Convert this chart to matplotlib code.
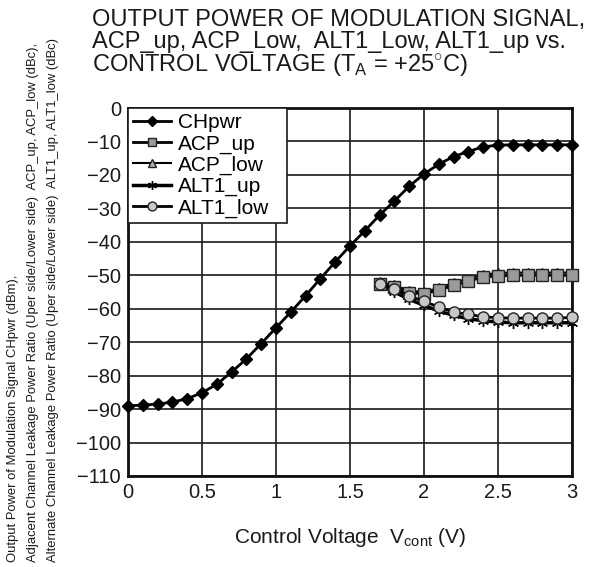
import numpy as np
import matplotlib
matplotlib.use('Agg')
import matplotlib.pyplot as plt

plt.rcParams['font.family'] = ['Liberation Sans', 'DejaVu Sans']
plt.rcParams['mathtext.fontset'] = 'custom'
plt.rcParams['mathtext.rm'] = 'Liberation Sans'

# data
v_ch = [0.0, 0.1, 0.2, 0.3, 0.4, 0.5, 0.6, 0.7, 0.8, 0.9, 1.0, 1.1, 1.2, 1.3, 1.4, 1.5,
        1.6, 1.7, 1.8, 1.9, 2.0, 2.1, 2.2, 2.3, 2.4, 2.5, 2.6, 2.7, 2.8, 2.9, 3.0]
chpwr = [-89, -88.8, -88.5, -87.9, -86.9, -85.1, -82.6, -78.9, -75, -70.4, -65.7, -61, -56.1,
         -51, -46, -41.2, -36.7, -32, -27.8, -23.4, -19.7, -16.8, -14.5, -13, -11.6, -11.1,
         -11, -11, -11, -11, -11]
v_adj = [1.7, 1.8, 1.9, 2.0, 2.1, 2.2, 2.3, 2.4, 2.5, 2.6, 2.7, 2.8, 2.9, 3.0]
acp_up = [-52.5, -53.5, -55.3, -55.5, -54.5, -53, -51.8, -50.5, -50.2, -50, -50, -50, -50, -50]
acp_low = [-52, -53, -54.6, -55, -53.8, -52.2, -51, -49.8, -49.3, -49.2, -49.2, -49.2, -49.2, -49.2]
alt1_up = [-53, -55, -57.2, -59, -60.7, -62, -63, -63.6, -64, -64.2, -64.2, -64.2, -64.2, -64.2]
alt1_low = [-52.5, -54, -56.2, -57.8, -59.5, -61, -61.7, -62.4, -62.7, -62.8, -62.8, -62.8, -62.8, -62.6]

x_ticks = [0, 0.5, 1, 1.5, 2, 2.5, 3]
x_labels = ['0', '0.5', '1', '1.5', '2', '2.5', '3']
y_ticks = list(range(0, -111, -10))

fig = plt.figure(figsize=(5.94, 5.67), dpi=100)
ax = fig.add_axes([0.2155, 0.1605, 0.7475, 0.649])

ax.plot(v_ch, chpwr, color='black', lw=2, marker='D', ms=6, mfc='black', mec='black',
        label='CHpwr', clip_on=False, zorder=5)
ax.plot(v_adj, acp_up, color='black', lw=2, marker='s', ms=8, mfc='#9a9a9a', mec='#222222',
        label='ACP_up', clip_on=False, zorder=4)
ax.plot(v_adj, acp_low, color='black', lw=1.5, marker='^', ms=7, mfc='#b0b0b0', mec='#222222',
        label='ACP_low', clip_on=False, zorder=3)
ax.plot(v_adj, alt1_up, color='black', lw=2.5, marker=(6, 2, 0), ms=8, mec='black',
        label='ALT1_up', clip_on=False, zorder=3)
ax.plot(v_adj, alt1_low, color='black', lw=2, marker='o', ms=8, mfc='#c8c8c8', mec='#222222',
        label='ALT1_low', clip_on=False, zorder=4)

ax.set_xlim(0, 3)
ax.set_ylim(-110, 0)
ax.set_xticks(x_ticks)
ax.set_xticklabels(x_labels)
ax.set_yticks(y_ticks)
ax.grid(True, color='#1a1a1a', lw=1.2)
ax.set_axisbelow(True)
ax.tick_params(length=0, labelsize=14.5, pad=5, colors='#1a1a1a')
for s in ax.spines.values():
    s.set_linewidth(2)
    s.set_color('#111111')

leg = ax.legend(loc='upper left', bbox_to_anchor=(0, 0, 0.358, 1), mode='expand',
                fontsize=15, frameon=True, fancybox=False,
                borderaxespad=0, handlelength=1.8, handletextpad=0.35,
                labelspacing=0.1, borderpad=0.25, markerscale=0.8)
leg.get_frame().set_edgecolor('#1a1a1a')
leg.get_frame().set_linewidth(1.2)
leg.get_frame().set_alpha(1)

ax.set_xlabel(r'Control Voltage  V$_{\rm cont}$ (V)', fontsize=15, labelpad=17, color='#1a1a1a')

fig.text(0.155, 0.985,
         'OUTPUT POWER OF MODULATION SIGNAL,\nACP_up, ACP_Low,  ALT1_Low, ALT1_up vs.\n'
         r'CONTROL VOLTAGE (T$_{\rm A}$ = +25$^{\circ}$C)',
         ha='left', va='top', fontsize=17, linespacing=1.0, color='#1a1a1a')

ylab = ('Output Power of Modulation Signal CHpwr (dBm),\n'
        'Adjacent Channel Leakage Power Ratio (Uper side/Lower side)  ACP_up, ACP_low (dBc),\n'
        'Alternate Channel Leakage Power Ratio (Uper side/Lower side)  ALT1_up, ALT1_low (dBc)')
fig.text(0.012, 0.008, ylab, rotation=90, ha='left', va='bottom', fontsize=9.4,
         linespacing=1.9, color='#1a1a1a')

fig.savefig('out.png', dpi=100)
